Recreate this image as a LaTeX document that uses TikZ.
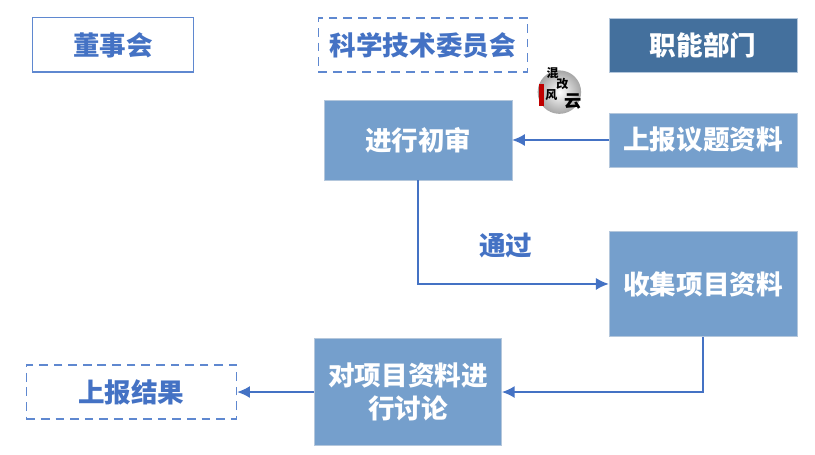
\documentclass[tikz,border=0pt]{standalone}
\usepackage{fontspec}
\setmainfont{Noto Sans CJK SC}
\usepackage{xcolor}
\usetikzlibrary{positioning, arrows.meta}
\definecolor{textBlue}{HTML}{4472C4}
\definecolor{lineBlue}{HTML}{5F88D0}
\definecolor{fillBlue}{HTML}{759FCC}
\definecolor{edgeBlue}{HTML}{B4C7DC}
\definecolor{headBlue}{HTML}{44709D}
\tikzset{
    title/.style={rectangle, draw=lineBlue, line width=0.8pt, fill=white, text=textBlue, align=center, minimum height=1.43cm, font=\bfseries\fontsize{20}{25}\selectfont},
    titleDash/.style={title, line width=1pt, dash pattern=on 6.5pt off 4.5pt},
    head/.style={rectangle, draw=edgeBlue, fill=headBlue, text=white, align=center, minimum width=4.97cm, minimum height=1.43cm, font=\bfseries\fontsize{20}{25}\selectfont},
    work/.style={rectangle, draw=edgeBlue, fill=fillBlue, text=white, align=center, minimum width=4.97cm, font=\bfseries\fontsize{20}{25}\selectfont},
    arrow/.style={-{Latex[length=3.4mm,width=3.2mm]}, draw=textBlue, line width=1.3pt},
    label/.style={text=textBlue, font=\bfseries\fontsize{20}{25}\selectfont},
    brush/.style={text=black, inner sep=0pt, font=\bfseries\fontsize{9}{9}\selectfont}
}
\begin{document}
\begin{tikzpicture}
        \useasboundingbox (0,0) rectangle (21.563,-12.038);

        % Top row
        \node[head] (Dept) at (18.6,-1.19) {职能部门};
        \node[titleDash, minimum width=5.53cm, left=2.14cm of Dept] (Tech) {科学技术委员会};
        \node[title, minimum width=4.26cm, left=3.27cm of Tech] (Board) {董事会};

        % Department column
        \node[work, minimum height=1.43cm, below=1.07cm of Dept] (Submit) {上报议题资料};
        \node[work, minimum height=2.78cm, below=1.69cm of Submit] (Collect) {收集项目资料};

        % Committee steps
        \node[work, minimum width=4.95cm, minimum height=2.12cm, left=2.56cm of Submit] (Review) {进行初审};
        \node[work, minimum width=4.95cm, minimum height=2.83cm, below left=0.04cm and 2.83cm of Collect] (Discuss) {对项目资料进\\行讨论};

        % Result
        \node[titleDash, minimum width=5.56cm, left=2.04cm of Discuss] (Result) {上报结果};

        % Logo
        \node[circle, minimum size=1.15cm, inner sep=0pt, inner color=white, outer color=black!35, right=0.67cm of Review.north east, yshift=0.2cm] (Logo) {};
        \node[rectangle, fill=red!75!black, minimum width=0.12cm, minimum height=0.6cm, inner sep=0pt, left=0.4cm of Logo.center, yshift=-0.08cm] (Seal) {};
        \node[brush] (Hun) at ([xshift=-0.18cm,yshift=0.5cm]Logo.center) {混};
        \node[brush] (Gai) at ([xshift=0.08cm,yshift=0.22cm]Logo.center) {改};
        \node[brush] (Feng) at ([xshift=-0.21cm,yshift=-0.08cm]Logo.center) {风};
        \node[brush, font=\bfseries\fontsize{13}{13}\selectfont] (Yun) at ([xshift=0.36cm,yshift=-0.24cm]Logo.center) {云};

        % Wires
        \draw[arrow] (Submit) -- (Review);
        \draw[arrow] (Review) |- node[pos=0.73, above=0.55cm, label] (Pass) {通过} (Collect);
        \draw[arrow] (Collect) |- (Discuss);
        \draw[arrow] (Discuss) -- (Result);

    \end{tikzpicture}
\end{document}
